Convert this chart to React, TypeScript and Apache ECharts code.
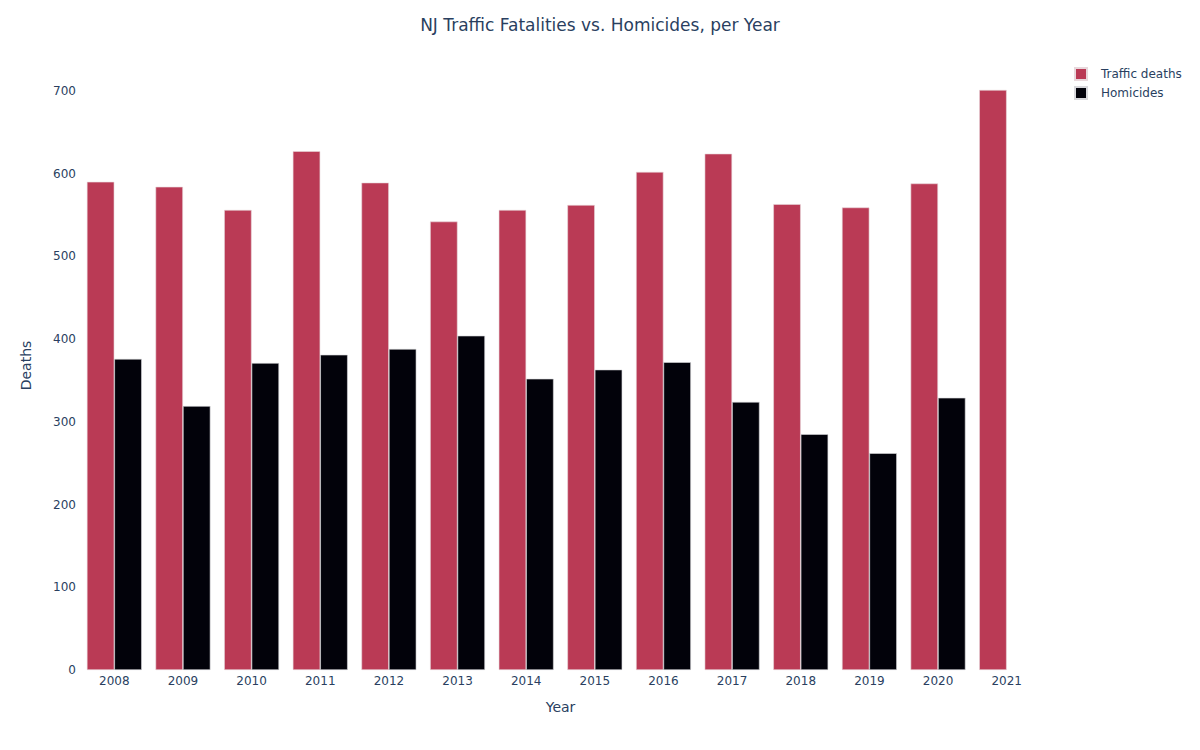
import * as echarts from 'echarts';
import { useEffect, useRef } from 'react';

const years = ['2008', '2009', '2010', '2011', '2012', '2013', '2014', '2015', '2016', '2017', '2018', '2019', '2020', '2021'];
const trafficDeaths = [590, 584, 556, 627, 589, 542, 556, 562, 602, 624, 563, 559, 588, 701];
const homicides = [376, 319, 371, 381, 388, 404, 352, 363, 372, 324, 285, 262, 329, null];

const textColor = '#2a3f5f';
const font = '"DejaVu Sans", sans-serif';

const App = () => {
    const chartRef = useRef(null);

    useEffect(() => {
        const chart = echarts.init(chartRef.current, null, { renderer: 'svg' });

        const option = {
            animation: false,
            textStyle: { fontFamily: font, color: textColor },
            title: {
                text: 'NJ Traffic Fatalities vs. Homicides, per Year',
                left: 'center',
                top: 11,
                textStyle: { fontFamily: font, fontSize: 17, fontWeight: 'normal', color: textColor },
            },
            legend: {
                orient: 'vertical',
                left: 1069,
                top: 62,
                itemWidth: 12,
                itemHeight: 12,
                itemGap: 5,
                icon: 'rect',
                textStyle: { fontFamily: font, fontSize: 12, color: textColor, padding: [0, 0, 0, 9] },
                data: ['Traffic deaths', 'Homicides'],
            },
            grid: { left: 80, right: 159, top: 61, bottom: 80 },
            xAxis: {
                type: 'category',
                data: years,
                name: 'Year',
                nameLocation: 'middle',
                nameGap: 30,
                nameTextStyle: { fontFamily: font, fontSize: 14, color: textColor },
                axisLine: { show: false },
                axisTick: { show: false },
                axisLabel: { fontFamily: font, fontSize: 12, color: textColor, margin: 5 },
            },
            yAxis: {
                type: 'value',
                min: 0,
                max: 736,
                interval: 100,
                name: 'Deaths',
                nameLocation: 'middle',
                nameGap: 47,
                nameTextStyle: { fontFamily: font, fontSize: 14, color: textColor },
                axisLine: { show: false },
                axisTick: { show: false },
                splitLine: { show: false },
                axisLabel: { fontFamily: font, fontSize: 12, color: textColor, margin: 4, showMaxLabel: false },
            },
            series: [
                {
                    name: 'Traffic deaths',
                    type: 'bar',
                    data: trafficDeaths,
                    barGap: '0%',
                    barCategoryGap: '20%',
                    itemStyle: { color: '#ba3a55', borderColor: '#e8d8dc', borderWidth: 0.6 },
                },
                {
                    name: 'Homicides',
                    type: 'bar',
                    data: homicides,
                    barGap: '0%',
                    barCategoryGap: '20%',
                    itemStyle: { color: '#02020a', borderColor: '#d8d8dc', borderWidth: 0.6 },
                },
            ],
        };

        chart.setOption(option);

        return () => {
            chart.dispose();
        };
    }, []);

    return <div ref={chartRef} style={{ width: '1200px', height: '750px', margin: '-8px' }} />;
};

export default App;
